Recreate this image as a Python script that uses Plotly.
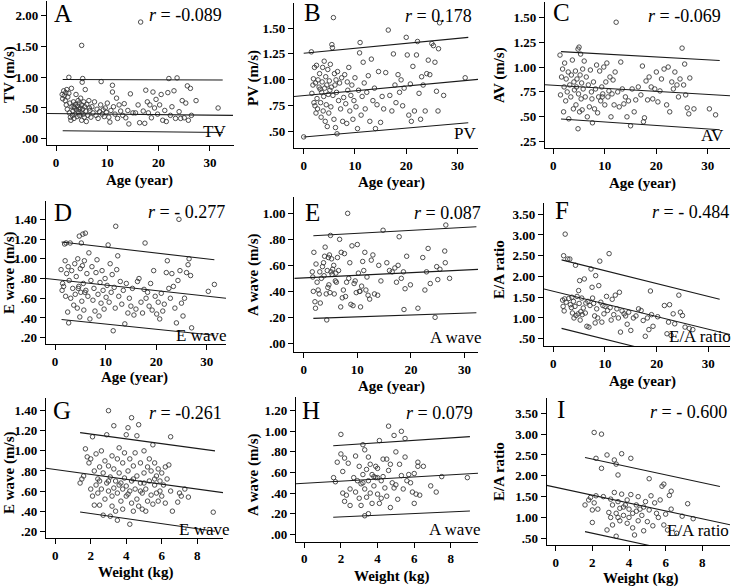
import plotly.graph_objects as go

W, H = 734, 587

# ---------------- data ----------------
A_age = [1.2,1.3,1.5,1.6,1.8,1.9,2.0,2.1,2.2,2.3,2.5,2.6,2.7,2.8,2.9,3.0,3.1,3.2,3.3,3.4,3.5,3.6,3.7,3.8,3.9,4.0,4.1,4.2,4.3,4.4,4.5,4.6,4.7,4.8,4.9,5.0,5.0,5.1,5.2,5.3,5.4,5.5,5.6,5.7,5.8,5.9,6.0,6.2,6.4,6.6,6.8,7.0,7.2,7.5,7.8,8.0,8.2,8.5,8.7,9.0,9.2,9.4,9.6,9.8,10.0,10.3,10.5,10.7,11.0,11.2,11.5,11.8,12.0,12.3,12.6,13.0,13.3,13.6,14.0,14.2,14.5,15.0,15.5,16.0,16.3,16.5,17.0,17.3,17.5,17.8,18.0,18.3,18.6,18.9,19.2,19.5,19.8,20.2,20.5,20.8,21.2,21.5,21.8,22.0,22.3,22.6,23.0,23.3,23.6,24.0,24.3,24.6,25.0,25.3,25.6,25.8,26.2,26.4,27.3,31.6,5.0,2.5,5.2,8.8,11.0,3.5,4.5,6.5]
A_tv = [0.72,0.65,0.78,0.70,0.62,0.75,0.55,0.80,0.48,0.68,0.74,0.42,0.58,0.35,0.30,0.82,0.52,0.38,0.45,0.60,0.33,0.50,0.40,0.56,0.72,0.47,0.36,0.53,0.62,0.44,0.58,0.38,0.50,0.66,0.42,0.55,0.30,0.92,0.48,0.40,0.60,0.35,0.52,0.80,0.45,0.28,0.56,0.38,0.62,0.46,0.35,0.52,0.42,0.60,0.38,0.48,0.33,0.44,0.55,0.40,0.47,0.36,0.50,0.43,0.58,0.35,0.27,0.46,0.76,0.52,0.40,0.66,0.33,0.55,0.45,0.38,0.57,0.34,0.46,0.24,0.73,0.42,0.42,0.55,0.26,1.90,0.45,0.25,0.79,0.60,0.42,0.55,0.34,0.76,0.50,0.64,0.40,0.55,0.72,0.30,0.46,0.28,0.75,0.98,0.38,0.52,0.78,0.33,0.99,0.44,0.33,0.62,0.34,0.58,0.86,0.30,0.82,0.38,0.62,0.50,1.52,1.00,0.98,0.93,0.87,0.52,0.48,0.50]

B_age = [0,1.5,1.6,1.8,1.9,2.0,2.1,2.2,2.3,2.4,2.5,2.6,2.7,2.8,3.0,3.1,3.3,3.4,3.5,3.6,3.7,3.8,3.9,4.0,4.1,4.2,4.3,4.4,4.5,4.6,4.7,4.8,4.9,5.0,5.1,5.2,5.3,5.4,5.5,5.6,5.7,5.8,5.9,6.0,6.1,6.2,6.4,6.5,6.6,6.8,7.0,7.2,7.4,7.6,7.8,8.0,8.2,8.4,8.6,8.8,9.0,9.2,9.4,9.6,9.8,10.0,10.2,10.5,10.7,10.9,11.0,11.2,11.4,11.6,11.8,12.0,12.3,12.6,12.9,13.2,13.5,13.8,14.0,14.3,14.6,15.0,15.3,15.6,16.0,16.5,16.8,17.2,17.5,17.8,18.0,18.4,18.7,19.0,19.3,19.6,20.0,20.2,20.5,20.8,21.0,21.3,21.6,22.0,22.2,22.5,22.8,23.0,23.3,23.7,24.0,24.3,24.6,25.0,25.3,25.6,25.9,26.2,26.5,26.3,27.3,31.5,8.5,6.3,3.2]
B_pv = [0.45,1.27,0.87,0.95,1.01,0.78,1.12,0.75,0.97,0.68,1.14,0.82,0.72,1.00,0.93,1.06,0.78,0.64,0.88,0.98,1.12,0.70,0.84,1.18,0.92,0.60,1.03,0.76,0.95,0.55,1.10,0.86,0.68,0.99,0.90,1.15,0.74,0.93,1.34,1.31,0.85,1.60,0.62,1.06,0.95,0.54,0.88,0.48,1.08,0.80,0.97,0.72,1.02,0.60,0.83,1.05,0.77,0.58,0.90,1.12,0.70,0.85,0.95,0.62,0.80,1.02,0.74,0.53,0.90,1.26,1.36,0.66,0.84,1.17,0.97,0.72,0.88,1.04,0.60,1.20,0.80,0.92,0.53,0.76,1.08,0.59,0.84,0.72,1.07,1.48,0.85,0.70,1.25,0.95,0.78,1.05,0.88,1.00,0.75,0.92,1.41,1.24,0.66,0.96,0.60,1.13,0.70,1.24,1.37,0.87,0.62,1.03,0.95,0.70,1.06,1.19,1.05,1.35,1.33,1.17,0.89,0.70,1.55,1.30,0.85,1.02,0.98,1.00,0.91]

C_age = [1.3,1.4,1.6,1.8,2.0,2.1,2.2,2.4,2.5,2.7,2.9,3.0,3.2,3.4,3.5,3.7,3.9,4.0,4.1,4.3,4.4,4.6,4.8,4.8,4.9,5.0,5.1,5.2,5.3,5.4,5.5,5.6,5.7,5.8,6.0,6.2,6.4,6.6,6.8,7.0,7.2,7.4,7.6,7.8,8.0,8.2,8.4,8.6,8.8,9.0,9.2,9.4,9.6,9.8,10.0,10.2,10.4,10.6,10.8,11.0,11.2,11.4,11.6,11.8,12.0,12.2,12.5,12.8,13.1,13.4,13.7,14.0,14.3,14.6,15.0,15.3,15.7,16.0,16.5,17.0,17.3,17.5,17.7,18.0,18.3,18.6,19.0,19.3,19.7,20.0,20.3,20.7,21.0,21.5,22.0,22.3,22.6,23.0,23.3,23.6,24.0,24.3,24.6,25.0,25.3,25.5,25.7,26.0,26.3,26.5,27.3,30.3,31.5,9.5,4.5,7.5]
C_av = [1.12,0.72,0.90,0.98,0.55,0.80,1.04,0.66,0.88,0.75,0.95,0.48,0.82,0.70,0.92,1.07,0.58,0.85,0.77,0.96,0.62,0.88,0.38,1.18,0.73,1.20,0.55,0.92,1.13,0.68,0.84,0.57,0.98,0.78,1.06,0.70,0.90,0.50,0.82,0.60,0.97,0.75,0.44,0.85,0.58,0.78,1.02,0.54,0.70,0.96,0.66,0.80,0.73,1.00,0.62,0.85,1.04,0.70,0.76,0.90,0.50,0.73,0.87,0.62,0.95,1.45,0.75,0.60,1.05,0.78,0.63,0.70,0.50,0.66,0.41,0.78,0.55,0.67,0.80,0.72,1.01,0.45,0.49,0.86,0.67,0.90,0.80,0.68,0.78,0.95,0.65,0.76,0.88,0.98,0.62,1.00,0.55,0.85,0.78,0.95,0.82,0.70,0.88,1.19,0.82,1.03,0.72,0.59,0.53,0.89,0.58,0.58,0.52,0.70,0.80,0.68]

D_age = [1.2,1.4,1.5,1.7,1.9,2.0,2.1,2.2,2.3,2.5,2.6,2.7,2.8,3.0,3.1,3.3,3.5,3.7,3.9,4.0,4.2,4.4,4.5,4.7,4.8,4.9,5.0,5.1,5.2,5.3,5.4,5.5,5.6,5.7,5.8,6.0,6.1,6.3,6.5,6.7,6.9,7.1,7.3,7.5,7.7,7.9,8.1,8.3,8.5,8.7,8.9,9.1,9.3,9.5,9.7,9.9,10.1,10.3,10.5,10.7,10.9,11.1,11.3,11.5,11.7,11.9,12.0,12.2,12.4,12.6,12.9,13.2,13.5,13.8,14.1,14.4,14.7,15.0,15.3,15.6,16.0,16.3,16.6,17.0,17.3,17.6,17.8,18.0,18.3,18.6,18.9,19.2,19.5,19.8,20.1,20.4,20.7,21.0,21.3,21.6,22.0,22.2,22.5,22.8,23.1,23.4,23.7,24.0,24.3,24.5,24.7,25.0,25.3,25.6,26.0,26.3,26.5,26.8,27.0,30.3,31.5,4.6,5.9]
D_e = [0.89,0.68,0.75,0.72,1.15,0.98,0.62,1.16,0.85,0.46,0.92,0.35,0.78,1.16,0.60,0.88,0.70,0.53,0.95,0.64,0.82,0.50,1.00,0.72,1.23,0.41,0.90,0.66,1.16,0.57,0.93,1.25,0.75,0.48,0.98,1.26,0.68,0.85,0.62,1.06,0.39,0.78,0.92,0.58,0.70,0.47,0.86,0.99,0.64,0.42,0.76,0.55,0.88,0.68,0.49,0.80,0.61,0.73,1.14,0.56,0.95,0.66,0.84,0.27,0.71,0.50,1.33,0.89,1.03,0.62,0.77,0.54,0.68,0.34,0.75,0.45,0.60,0.52,0.70,0.43,0.49,0.77,0.80,0.56,0.45,0.69,1.16,0.60,0.66,0.52,0.75,0.48,0.88,0.62,0.44,0.56,0.39,0.65,0.47,0.54,0.86,0.98,0.70,0.60,0.85,0.72,0.50,0.35,0.78,1.40,0.88,0.55,0.42,0.60,0.86,0.94,1.00,0.83,0.30,0.67,0.74,0.70,0.66]

E_age = [1.6,1.7,1.8,1.9,2.1,2.2,2.3,2.5,2.7,2.9,3.0,3.1,3.3,3.5,3.7,3.9,4.0,4.2,4.3,4.4,4.5,4.6,4.7,4.8,4.9,5.0,5.1,5.2,5.3,5.4,5.6,5.7,5.9,6.1,6.3,6.5,6.7,6.9,7.0,7.2,7.4,7.6,7.8,8.0,8.2,8.4,8.6,8.8,9.0,9.2,9.4,9.6,9.8,10.0,10.2,10.4,10.6,10.8,11.0,11.2,11.4,11.6,11.8,12.0,12.3,12.6,12.9,13.2,13.8,14.0,14.4,14.8,15.5,16.0,16.5,17.0,17.3,17.6,17.8,18.2,18.6,18.7,18.9,19.2,19.9,21.3,22.2,22.6,22.9,23.2,23.6,24.5,24.8,25.0,25.4,26.3,26.4,26.5,27.2,3.8,6.0,10.5]
E_a = [0.55,0.51,0.40,0.70,0.32,0.27,0.61,0.47,0.41,0.38,0.55,0.31,0.50,0.59,0.62,0.67,0.74,0.38,0.18,0.56,0.43,0.66,0.45,0.68,0.39,0.83,0.55,0.65,0.53,0.57,0.60,0.38,0.48,0.47,0.66,0.56,0.80,0.28,0.70,0.35,0.41,0.69,0.36,0.47,1.00,0.50,0.62,0.30,0.75,0.29,0.46,0.48,0.39,0.76,0.54,0.40,0.28,0.44,0.63,0.56,0.70,0.41,0.51,0.37,0.34,0.64,0.68,0.38,0.37,0.60,0.48,0.87,0.62,0.56,0.55,0.58,0.47,0.60,0.82,0.50,0.55,0.26,0.42,0.67,0.45,0.27,0.66,0.41,0.55,0.73,0.46,0.20,0.59,0.49,0.57,0.71,0.62,0.91,0.50,0.52,0.54,0.40]

F_age = [1.8,1.9,2.0,2.1,2.2,2.3,2.5,2.8,3.0,3.2,3.3,3.5,3.7,3.9,4.0,4.2,4.3,4.4,4.6,4.8,4.9,5.0,5.1,5.2,5.3,5.5,5.6,5.8,6.0,6.2,6.5,6.7,6.9,7.1,7.3,7.5,7.6,7.8,8.0,8.1,8.2,8.4,8.6,8.8,9.0,9.2,9.4,9.6,9.8,10.0,10.3,10.5,10.8,11.0,11.2,11.4,11.7,12.0,12.3,12.6,12.8,13.0,13.3,13.7,14.0,14.3,14.6,15.0,15.5,16.0,16.5,17.0,17.4,17.8,18.2,18.5,18.8,19.0,19.3,20.2,21.5,22.0,22.3,22.5,22.8,23.2,23.5,24.3,24.6,25.0,25.5,26.3,27.0,6.3,3.6]
F_ratio = [1.43,1.28,2.50,1.17,1.46,3.02,1.38,2.42,1.47,2.42,1.32,1.25,1.12,1.40,1.00,1.28,2.27,1.06,1.52,1.10,1.66,1.35,1.90,0.95,1.15,1.48,1.08,1.24,1.94,1.12,0.80,1.40,0.78,1.30,2.18,1.74,1.48,1.35,1.05,0.88,2.02,1.22,1.00,1.78,2.37,1.38,0.90,1.30,1.10,1.28,1.52,1.18,2.55,1.25,0.95,1.45,1.08,1.55,1.22,1.00,1.62,0.66,1.17,1.10,1.05,0.85,1.14,0.70,1.00,1.05,1.22,1.18,0.94,0.56,1.00,0.72,1.65,1.08,0.80,1.03,1.30,0.62,0.90,1.32,0.58,1.10,0.86,1.55,1.14,1.06,0.78,0.75,0.72,1.36,1.50]

G_wt = [1.4,1.5,1.6,1.7,1.8,1.9,2.0,2.0,2.1,2.1,2.2,2.2,2.3,2.3,2.4,2.4,2.5,2.5,2.6,2.6,2.7,2.7,2.8,2.8,2.9,2.9,3.0,3.0,3.0,3.1,3.1,3.2,3.2,3.3,3.3,3.3,3.4,3.4,3.5,3.5,3.5,3.6,3.6,3.7,3.7,3.8,3.8,3.9,3.9,4.0,4.0,4.0,4.1,4.1,4.2,4.2,4.2,4.3,4.3,4.3,4.4,4.4,4.5,4.5,4.6,4.6,4.6,4.7,4.7,4.8,4.8,4.9,4.9,5.0,5.0,5.1,5.1,5.2,5.2,5.3,5.3,5.4,5.4,5.5,5.5,5.6,5.6,5.7,5.7,5.8,5.8,5.9,5.9,6.0,6.0,6.1,6.2,6.2,6.3,6.4,6.5,6.5,6.6,6.9,7.0,7.1,7.3,7.5,8.9,3.6,4.4,3.0,5.0,2.5,4.8,3.8,5.6,4.1,3.2]
G_e = [0.68,0.72,0.75,1.02,0.94,0.88,0.62,0.92,1.14,0.55,0.80,0.46,0.97,0.66,0.72,0.58,0.84,0.46,1.00,0.62,0.36,0.78,0.90,0.52,0.68,1.16,1.40,0.60,0.85,0.35,0.74,0.45,0.95,1.25,0.63,0.82,0.40,0.70,0.31,0.92,0.58,0.78,1.03,0.50,0.68,0.88,0.42,0.73,0.98,0.55,0.65,1.16,1.23,0.80,0.27,0.60,0.92,1.33,0.48,0.70,0.85,0.40,0.62,0.98,1.15,0.52,0.75,1.26,0.45,0.68,0.88,0.58,0.42,0.78,1.00,0.40,0.62,0.84,0.50,0.70,0.92,0.56,0.80,1.06,0.47,0.66,0.88,0.58,0.75,0.82,0.50,0.70,0.60,0.78,0.55,0.66,0.84,0.48,0.72,0.86,1.14,0.60,0.40,0.49,0.58,0.55,0.62,0.54,0.39,0.66,0.72,0.70,0.68,0.70,0.60,0.62,0.72,0.57,0.55]

H_wt = [1.6,1.7,1.8,2.0,2.0,2.1,2.1,2.2,2.2,2.3,2.4,2.5,2.5,2.7,2.8,2.8,2.9,3.0,3.0,3.1,3.1,3.2,3.2,3.3,3.3,3.3,3.4,3.4,3.5,3.5,3.5,3.6,3.6,3.7,3.7,3.8,3.9,3.9,4.0,4.0,4.1,4.1,4.2,4.2,4.3,4.3,4.4,4.5,4.5,4.6,4.6,4.7,4.7,4.8,4.9,4.9,5.0,5.0,5.1,5.2,5.3,5.3,5.4,5.5,5.5,5.6,5.7,5.8,5.9,6.0,6.0,6.1,6.2,6.2,6.3,6.5,6.9,7.2,7.5,8.9,3.8,4.0,3.2]
H_a = [0.55,0.51,0.70,0.97,0.78,0.61,0.40,0.32,0.74,0.38,0.69,0.44,0.28,0.55,0.76,0.41,0.52,0.66,0.35,0.49,0.28,0.87,0.58,0.82,0.18,0.44,0.63,0.36,0.75,0.20,0.52,0.68,0.40,0.30,0.58,0.47,0.66,0.55,0.39,0.64,0.30,0.91,0.52,0.35,0.73,0.56,0.45,0.73,0.37,1.05,0.62,0.26,0.68,0.50,0.96,0.45,0.80,0.48,0.34,0.68,1.00,0.57,0.44,0.93,0.75,0.52,0.58,0.50,0.41,0.59,0.30,0.39,0.70,0.66,0.38,0.66,0.47,0.41,0.56,0.55,0.56,0.55,0.50]

I_wt = [1.6,1.8,1.9,2.0,2.0,2.1,2.1,2.2,2.2,2.3,2.5,2.5,2.6,2.8,2.8,2.9,3.0,3.0,3.1,3.1,3.2,3.2,3.3,3.3,3.3,3.4,3.4,3.5,3.5,3.6,3.6,3.7,3.8,3.9,3.9,4.0,4.0,4.1,4.1,4.2,4.2,4.3,4.4,4.5,4.5,4.6,4.7,4.8,4.9,5.0,5.1,5.1,5.2,5.3,5.4,5.5,5.6,5.7,5.8,5.9,5.9,6.0,6.1,6.2,6.3,6.3,6.6,6.9,7.2,7.5,3.7,4.4,3.4,4.8]
I_ratio = [1.30,1.42,1.48,1.18,0.88,3.04,1.35,2.42,1.52,1.20,3.00,2.18,1.50,2.50,0.70,1.12,1.44,1.00,1.30,0.82,2.38,1.60,2.28,1.10,0.55,2.02,1.38,1.22,0.92,2.53,1.56,1.05,1.30,1.42,0.86,1.20,1.00,2.42,1.55,0.75,1.10,0.58,1.30,0.92,1.50,1.20,1.05,0.68,1.38,0.90,1.93,1.18,1.52,0.80,1.35,1.10,1.00,1.42,1.75,1.80,0.82,1.08,0.70,1.53,1.63,1.20,0.62,1.03,1.33,0.97,1.25,1.15,1.00,1.25]

# fit line and prediction limits: (x0, x1, y0, y1) in data units
A_fit = [-1.8, 34.5, 0.41, 0.38]; A_up = [1.3, 32.5, 0.965, 0.955]; A_lo = [1.3, 32.5, 0.13, 0.10]
B_fit = [-1.9, 34.0, 0.84, 1.005]; B_up = [0.0, 32.1, 1.256, 1.41]; B_lo = [0.0, 32.1, 0.449, 0.587]
C_fit = [-1.6, 34.3, 0.822, 0.711]; C_up = [1.5, 32.3, 1.155, 1.065]; C_lo = [1.5, 32.3, 0.478, 0.371]
D_fit = [-1.8, 33.8, 0.80, 0.60]; D_up = [1.3, 31.5, 1.17, 0.99]; D_lo = [1.3, 31.5, 0.385, 0.225]
E_fit = [-1.75, 32.5, 0.50, 0.569]; E_up = [1.8, 32.2, 0.828, 0.897]; E_lo = [1.8, 32.2, 0.192, 0.235]
F_fit = [-1.8, 34.2, 1.70, 0.60]; F_up = [1.6, 32.2, 2.40, 1.45]; F_lo = [1.6, 32.2, 0.75, -0.20]
G_fit = [-0.52, 9.45, 0.827, 0.584]; G_up = [1.4, 9.0, 1.181, 1.0]; G_lo = [1.4, 9.0, 0.392, 0.20]
H_fit = [-0.45, 9.48, 0.491, 0.592]; H_up = [1.58, 9.04, 0.86, 0.948]; H_lo = [1.58, 9.04, 0.165, 0.226]
I_fit = [-0.49, 9.51, 1.77, 0.825]; I_up = [1.6, 8.96, 2.44, 1.745]; I_lo = [1.6, 8.96, 0.66, -0.04]

r_values = ["-0.089", "0.178", "-0.069", "- 0.277", "0.087", "- 0.484", "-0.261", "0.079", "- 0.600"]
letters = ["A", "B", "C", "D", "E", "F", "G", "H", "I"]
series = ["TV", "PV", "AV", "E wave", "A wave", "E/A ratio", "E wave", "A wave", "E/A ratio"]
y_titles = ["TV (m/s)", "PV (m/s)", "AV (m/s)", "E wave (m/s)", "A wave (m/s)", "E/A ratio",
            "E wave (m/s)", "A wave (m/s)", "E/A ratio"]
x_titles = ["Age (year)"] * 6 + ["Weight (kg)"] * 3

age_ticks = [0, 10, 20, 30]
wt_ticks = [0, 2, 4, 6, 8]
A_yt = [0.0, 0.5, 1.0, 1.5, 2.0]; A_ytl = [".00", ".50", "1.00", "1.50", "2.00"]
B_yt = [0.5, 0.75, 1.0, 1.25, 1.5]; B_ytl = [".50", ".75", "1.00", "1.25", "1.50"]
C_yt = [0.25, 0.5, 0.75, 1.0, 1.25, 1.5]; C_ytl = [".25", ".50", ".75", "1.00", "1.25", "1.50"]
D_yt = [0.2, 0.4, 0.6, 0.8, 1.0, 1.2, 1.4]; D_ytl = [".20", ".40", ".60", ".80", "1.00", "1.20", "1.40"]
E_yt = [0.0, 0.2, 0.4, 0.6, 0.8, 1.0]; E_ytl = [".00", ".20", ".40", ".60", ".80", "1.00"]
F_yt = [0.5, 1.0, 1.5, 2.0, 2.5, 3.0, 3.5]; F_ytl = [".50", "1.00", "1.50", "2.00", "2.50", "3.00", "3.50"]
G_yt = D_yt; G_ytl = D_ytl
H_yt = [0.0, 0.2, 0.4, 0.6, 0.8, 1.0, 1.2]; H_ytl = [".00", ".20", ".40", ".60", ".80", "1.00", "1.20"]
I_yt = F_yt; I_ytl = F_ytl

# ---------------- layout geometry (pixels) ----------------
panels = [
    dict(x=A_age, y=A_tv, lines=[A_fit, A_up, A_lo], yt=A_yt, ytl=A_ytl, xt=age_ticks,
         dom=(47, 234, 1, 145), xr=(-1.76, 34.7), yr=(-0.103, 2.243),
         let=(52, 13), rr=(224, 15), lab=(228, 132), xt_c=(139, 180), yt_c=(9, 75)),
    dict(x=B_age, y=B_pv, lines=[B_fit, B_up, B_lo], yt=B_yt, ytl=B_ytl, xt=age_ticks,
         dom=(294, 478, 3, 148), xr=(-1.89, 34.0), yr=(0.343, 1.741),
         let=(302, 12), rr=(474, 16), lab=(478, 133), xt_c=(391, 182), yt_c=(253, 78)),
    dict(x=C_age, y=C_av, lines=[C_fit, C_up, C_lo], yt=C_yt, ytl=C_ytl, xt=age_ticks,
         dom=(545, 730, 2, 148), xr=(-1.61, 34.3), yr=(0.187, 1.653),
         let=(551, 12), rr=(723, 16), lab=(726, 135), xt_c=(642, 183), yt_c=(499, 75)),
    dict(x=D_age, y=D_e, lines=[D_fit, D_up, D_lo], yt=D_yt, ytl=D_ytl, xt=age_ticks,
         dom=(45.7, 226, 201, 344), xr=(-1.84, 33.8), yr=(0.136, 1.586),
         let=(52, 212), rr=(227, 212), lab=(229, 335), xt_c=(134, 377), yt_c=(9, 273)),
    dict(x=E_age, y=E_a, lines=[E_fit, E_up, E_lo], yt=E_yt, ytl=E_ytl, xt=age_ticks,
         dom=(294.3, 478, 196.7, 352.3), xr=(-1.75, 32.5), yr=(-0.069, 1.128),
         let=(303, 212), rr=(483, 213), lab=(483, 337), xt_c=(391, 386), yt_c=(253, 275)),
    dict(x=F_age, y=F_ratio, lines=[F_fit, F_up, F_lo], yt=F_yt, ytl=F_ytl, xt=age_ticks,
         dom=(544, 730, 203, 346), xr=(-1.8, 34.2), yr=(0.325, 3.77),
         let=(553, 211), rr=(731, 212), lab=(733, 336), xt_c=(642, 382), yt_c=(499, 270)),
    dict(x=G_wt, y=G_e, lines=[G_fit, G_up, G_lo], yt=G_yt, ytl=G_ytl, xt=wt_ticks,
         dom=(46, 223, 398.3, 538.3), xr=(-0.52, 9.45), yr=(0.130, 1.523),
         let=(51, 410), rr=(224, 413), lab=(232, 529), xt_c=(135, 572), yt_c=(9, 473)),
    dict(x=H_wt, y=H_a, lines=[H_fit, H_up, H_lo], yt=H_yt, ytl=H_ytl, xt=wt_ticks,
         dom=(296, 478, 396.7, 541.7), xr=(-0.45, 9.48), yr=(-0.072, 1.336),
         let=(300, 410), rr=(475, 413), lab=(482, 529), xt_c=(391, 576), yt_c=(253, 475)),
    dict(x=I_wt, y=I_ratio, lines=[I_fit, I_up, I_lo], yt=I_yt, ytl=I_ytl, xt=wt_ticks,
         dom=(546.7, 730, 398.3, 545), xr=(-0.49, 9.51), yr=(0.339, 3.86),
         let=(555, 409), rr=(729, 412), lab=(731, 530), xt_c=(640, 578), yt_c=(499, 472)),
]

SERIF = "Liberation Serif, Times New Roman, DejaVu Serif, serif"
fig = go.Figure()
annotations = []
layout = dict(width=W, height=H, margin=dict(l=0, r=0, t=0, b=0),
              paper_bgcolor="white", plot_bgcolor="white", showlegend=False)

def px(xp):
    return xp / W

def py(yp):
    return 1 - yp / H

for i, p in enumerate(panels):
    n = i + 1
    xa = "x" if n == 1 else f"x{n}"
    ya = "y" if n == 1 else f"y{n}"
    fig.add_trace(go.Scatter(
        x=p["x"], y=p["y"], mode="markers", xaxis=xa, yaxis=ya,
        marker=dict(symbol="circle-open", size=4.5, color="#3a3a3a", line=dict(width=0.9)),
        hoverinfo="skip"))
    for ln in p["lines"]:
        fig.add_trace(go.Scatter(
            x=[ln[0], ln[1]], y=[ln[2], ln[3]], mode="lines", xaxis=xa, yaxis=ya,
            line=dict(color="#1a1a1a", width=1.1), hoverinfo="skip"))
    l, r, t, b = p["dom"]
    axcommon = dict(showline=True, linecolor="black", linewidth=1.3, showgrid=False,
                    zeroline=False, ticks="outside", ticklen=5, tickwidth=1, tickcolor="black",
                    tickfont=dict(family=SERIF, size=13, color="black", weight="bold"))
    layout["xaxis" if n == 1 else f"xaxis{n}"] = dict(
        domain=[px(l), px(r)], range=list(p["xr"]), anchor=ya,
        tickmode="array", tickvals=p["xt"], ticktext=[str(v) for v in p["xt"]],
        ticklabelstandoff=0, **axcommon)
    layout["yaxis" if n == 1 else f"yaxis{n}"] = dict(
        domain=[py(b), py(t)], range=list(p["yr"]), anchor=xa,
        tickmode="array", tickvals=p["yt"], ticktext=p["ytl"], **axcommon)

    annotations.append(dict(text=letters[i], x=px(p["let"][0]), y=py(p["let"][1]),
                            xref="paper", yref="paper", xanchor="left", yanchor="middle",
                            showarrow=False, font=dict(family=SERIF, size=25, color="black")))
    annotations.append(dict(text=f"<i>r</i> = {r_values[i]}", x=px(p["rr"][0]), y=py(p["rr"][1]),
                            xref="paper", yref="paper", xanchor="right", yanchor="middle",
                            showarrow=False, font=dict(family=SERIF, size=18, color="black")))
    annotations.append(dict(text=series[i], x=px(p["lab"][0]), y=py(p["lab"][1]),
                            xref="paper", yref="paper", xanchor="right", yanchor="middle",
                            showarrow=False, font=dict(family=SERIF, size=17, color="black")))
    annotations.append(dict(text=f"<b>{x_titles[i]}</b>", x=px(p["xt_c"][0]), y=py(p["xt_c"][1]),
                            xref="paper", yref="paper", xanchor="center", yanchor="middle",
                            showarrow=False, font=dict(family=SERIF, size=15, color="black")))
    annotations.append(dict(text=f"<b>{y_titles[i]}</b>", x=px(p["yt_c"][0]), y=py(p["yt_c"][1]),
                            xref="paper", yref="paper", xanchor="center", yanchor="middle",
                            textangle=-90, showarrow=False,
                            font=dict(family=SERIF, size=15, color="black")))

layout["annotations"] = annotations
fig.update_layout(**layout)
fig.write_html("out.html", config={"displayModeBar": False},
               post_script="document.body.style.margin='0px';document.body.style.overflow='hidden';")
